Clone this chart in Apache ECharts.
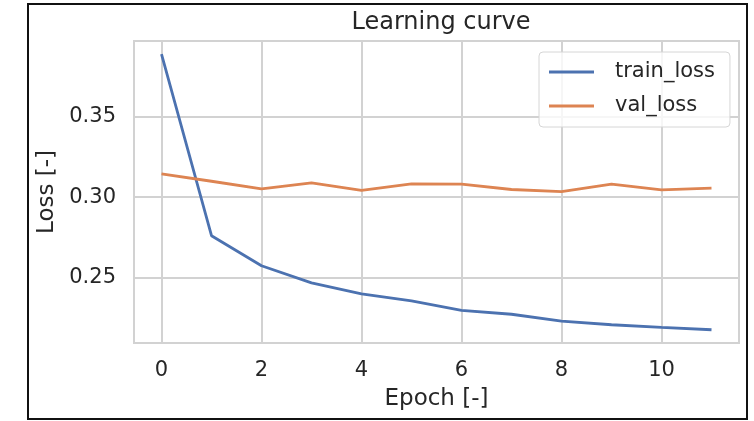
<!DOCTYPE html>
<html>
<head>
<meta charset="utf-8">
<script src="https://cdn.jsdelivr.net/npm/echarts@6/dist/echarts.min.js"></script>
<style>
  html, body { margin: 0; padding: 0; background: #fff; }
  #chart { width: 754px; height: 421px; }
</style>
</head>
<body>
<div id="chart"></div>
<script>
// Loss per epoch
const epochs = [0, 1, 2, 3, 4, 5, 6, 7, 8, 9, 10, 11];
const trainLoss = [0.3885, 0.2761, 0.2575, 0.2469, 0.2401, 0.2357, 0.2299, 0.2275, 0.2233, 0.2210, 0.2194, 0.2179];
const valLoss = [0.3144, 0.3098, 0.3051, 0.3088, 0.3042, 0.3082, 0.3080, 0.3047, 0.3034, 0.3080, 0.3045, 0.3055];
const xTicks = [0, 2, 4, 6, 8, 10];
const yTicks = [0.25, 0.30, 0.35];

const FONT = '"DejaVu Sans", sans-serif';
const TEXT_COLOR = '#262626';
const GRID_COLOR = '#d2d2d2';

const pairs = (xs, ys) => xs.map((x, i) => [x, ys[i]]);

const chart = echarts.init(document.getElementById('chart'), null, { renderer: 'canvas' });

chart.setOption({
  animation: false,
  backgroundColor: '#fff',
  title: {
    text: 'Learning curve',
    left: 436,
    textAlign: 'center',
    top: 6,
    textStyle: { fontFamily: FONT, fontSize: 24, fontWeight: 'normal', color: TEXT_COLOR }
  },
  grid: {
    left: 134, top: 41, right: 15, bottom: 78,
    show: true, borderColor: GRID_COLOR, borderWidth: 2, backgroundColor: 'transparent'
  },
  legend: {
    left: 539, top: 52,
    orient: 'vertical',
    icon: 'rect',
    itemWidth: 45, itemHeight: 3, itemGap: 12,
    padding: [9, 15, 10, 10],
    backgroundColor: 'rgba(255,255,255,0.8)',
    borderColor: '#d6d6d6', borderWidth: 1, borderRadius: 4,
    textStyle: { fontFamily: FONT, fontSize: 21, lineHeight: 22, color: TEXT_COLOR, padding: [0, 0, 0, 16] },
    data: ['train_loss', 'val_loss']
  },
  xAxis: {
    type: 'value',
    min: -0.55, max: 11.55,
    name: 'Epoch [-]',
    nameLocation: 'middle',
    nameGap: 45,
    nameTextStyle: { fontFamily: FONT, fontSize: 23, color: TEXT_COLOR },
    axisLine: { show: false },
    axisTick: { show: false, customValues: xTicks },
    axisLabel: { customValues: xTicks, margin: 17, fontFamily: FONT, fontSize: 21, color: TEXT_COLOR },
    splitLine: { show: true, lineStyle: { color: GRID_COLOR, width: 2 } }
  },
  yAxis: {
    type: 'value',
    min: 0.2097, max: 0.3966,
    name: 'Loss [-]',
    nameLocation: 'middle',
    nameGap: 75,
    nameTextStyle: { fontFamily: FONT, fontSize: 23, color: TEXT_COLOR },
    axisLine: { show: false },
    axisTick: { show: false, customValues: yTicks },
    axisLabel: {
      customValues: yTicks, margin: 18, fontFamily: FONT, fontSize: 21, color: TEXT_COLOR,
      formatter: v => v.toFixed(2)
    },
    splitLine: { show: true, lineStyle: { color: GRID_COLOR, width: 2 } }
  },
  graphic: [{
    type: 'rect',
    shape: { x: 28, y: 4, width: 719, height: 415 },
    style: { fill: 'none', stroke: '#111', lineWidth: 2 },
    z: 100
  }],
  series: [
    {
      name: 'train_loss', type: 'line', symbol: 'none',
      data: pairs(epochs, trainLoss),
      lineStyle: { color: '#4c72b0', width: 2.8 }, itemStyle: { color: '#4c72b0' }
    },
    {
      name: 'val_loss', type: 'line', symbol: 'none',
      data: pairs(epochs, valLoss),
      lineStyle: { color: '#dd8452', width: 2.8 }, itemStyle: { color: '#dd8452' }
    }
  ]
});
</script>
</body>
</html>
